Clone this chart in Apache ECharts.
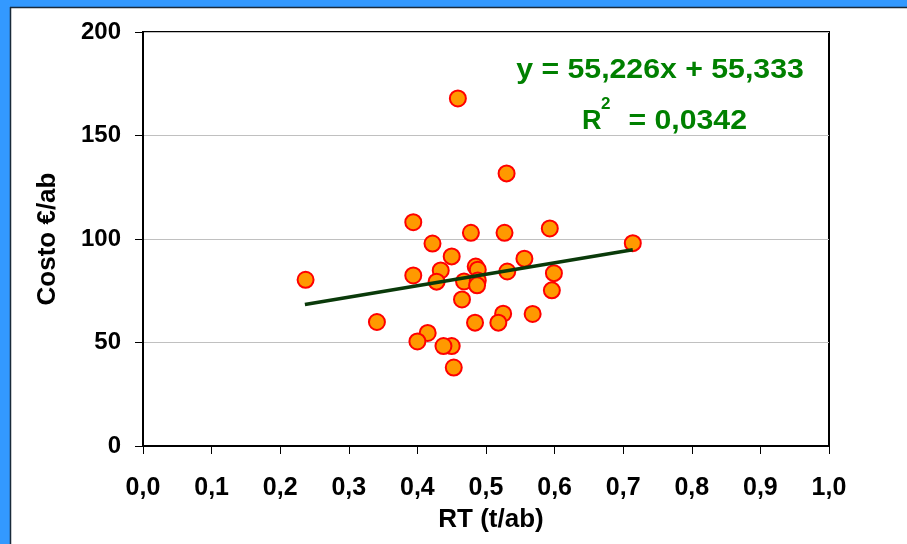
<!DOCTYPE html>
<html>
<head>
<meta charset="utf-8">
<script src="https://cdn.jsdelivr.net/npm/echarts@6/dist/echarts.min.js"></script>
<style>
html,body{margin:0;padding:0;background:#fff;}
#c{width:907px;height:544px;}
</style>
</head>
<body>
<div id="c"></div>
<script>
// ---- data ----
var rt = [0.459,0.530,0.394,0.478,0.527,0.593,0.714,0.422,0.450,0.556,0.237,0.394,0.434,0.428,0.485,0.488,0.468,0.488,0.487,0.531,0.599,0.596,0.465,0.525,0.518,0.568,0.484,0.341,0.415,0.400,0.450,0.438,0.453];
var costo = [167.9,131.7,108.1,103.0,103.0,105.1,98.0,97.8,91.6,90.5,80.3,82.4,84.8,79.4,86.7,85.2,79.5,80.0,77.6,84.3,83.5,75.2,70.8,63.9,59.6,63.8,59.6,59.9,54.6,50.5,48.3,48.3,37.9];
var trendX = [0.236, 0.714];
var trendY = [68.4, 94.8];
var xTickLabels = ['0,0','0,1','0,2','0,3','0,4','0,5','0,6','0,7','0,8','0,9','1,0'];
var yTickLabels = ['0','50','100','150','200'];
var equationText = 'y = 55,226x + 55,333';
var r2Value = '= 0,0342';

var pts = rt.map(function(x,i){return [x, costo[i]];});
var trend = trendX.map(function(x,i){return [x, trendY[i]];});

var FONT = '"Liberation Sans", Arial, sans-serif';
var chart = echarts.init(document.getElementById('c'), null, {renderer:'canvas'});
chart.setOption({
  animation:false,
  backgroundColor:'#ffffff',
  grid:{left:143, right:78, top:32, bottom:98, show:true, borderColor:'#000', borderWidth:2, backgroundColor:'transparent'},
  xAxis:{
    type:'value', min:0, max:1, interval:0.1,
    name:'RT (t/ab)', nameLocation:'middle', nameGap:61,
    nameTextStyle:{fontFamily:FONT, fontWeight:'bold', fontSize:26, color:'#000', padding:[0,0,0,10]},
    axisLine:{show:true, onZero:false, lineStyle:{color:'#000', width:2}},
    axisTick:{show:true, inside:false, length:8, lineStyle:{color:'#000', width:1}},
    axisLabel:{margin:30, fontFamily:FONT, fontWeight:'bold', fontSize:25, color:'#000',
      formatter:function(v){return xTickLabels[Math.round(v*10)];}},
    splitLine:{show:false}
  },
  yAxis:{
    type:'value', min:0, max:200, interval:50,
    name:'Costo €/ab', nameLocation:'middle', nameGap:82,
    nameTextStyle:{fontFamily:FONT, fontWeight:'bold', fontSize:26, color:'#000'},
    axisLine:{show:true, onZero:false, lineStyle:{color:'#000', width:2}},
    axisTick:{show:true, inside:false, length:8, lineStyle:{color:'#000', width:1}},
    axisLabel:{margin:22, fontFamily:FONT, fontWeight:'bold', fontSize:24, color:'#000',
      formatter:function(v){return yTickLabels[Math.round(v/50)];}},
    splitLine:{show:true, lineStyle:{color:'#c0c0c0', width:1}}
  },
  series:[
    {type:'scatter', data:pts, symbol:'circle', symbolSize:16, z:2,
     itemStyle:{color:'#FF9900', borderColor:'#FF0000', borderWidth:2, opacity:1}},
    {type:'line', data:trend, symbol:'none', z:3, lineStyle:{color:'#0a3a0a', width:3.5}}
  ],
  graphic:[
    {type:'rect', shape:{x:0,y:0,width:907,height:7}, style:{fill:'#3399FF'}, z:100},
    {type:'rect', shape:{x:0,y:0,width:10,height:544}, style:{fill:'#3399FF'}, z:100},
    {type:'line', shape:{x1:10,y1:7.5,x2:907,y2:7.5}, style:{stroke:'#1a2a3a', lineWidth:1.5}, z:101},
    {type:'line', shape:{x1:10.5,y1:7,x2:10.5,y2:544}, style:{stroke:'#1a2a3a', lineWidth:1.5}, z:101},
    {type:'text', x:660, y:71, scaleX:1.12, z:50, style:{text:equationText, font:'bold 27px '+FONT, fill:'#008000', align:'center', verticalAlign:'middle'}},
    {type:'text', x:582, y:121.5, z:50, style:{text:'R', font:'bold 27px '+FONT, fill:'#008000', align:'left', verticalAlign:'middle'}},
    {type:'text', x:601, y:104.5, z:50, style:{text:'2', font:'bold 17px '+FONT, fill:'#008000', align:'left', verticalAlign:'middle'}},
    {type:'text', x:747, y:121.5, scaleX:1.12, z:50, style:{text:r2Value, font:'bold 27px '+FONT, fill:'#008000', align:'right', verticalAlign:'middle'}}
  ]
});
</script>
</body>
</html>
